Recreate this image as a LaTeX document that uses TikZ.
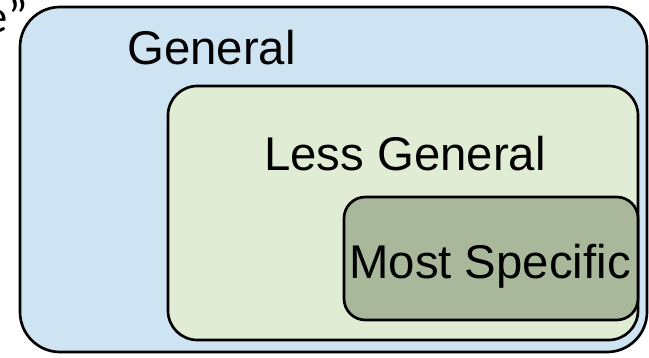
\documentclass[tikz,border=0pt]{standalone}
\usepackage{fontspec}
\setmainfont{Liberation Sans}
\newfontfamily\capfont{Carlito}
\usepackage{xcolor}
\usetikzlibrary{positioning,shapes}
\definecolor{outerblue}{HTML}{CFE4F2}
\definecolor{midgreen}{HTML}{E1ECD4}
\definecolor{darkgreen}{HTML}{A9B79B}
\tikzset{
  setbox/.style = {draw = black, line width = 2pt, inner sep = 0, outer sep = 0},
  settext/.style = {font = \fontsize{35.5}{40}\selectfont, inner sep = 0, anchor = base west}
}

\begin{document}
\begin{tikzpicture}[x = .75pt, y = -.75pt]
\useasboundingbox (0,0) rectangle (649,357);
\node[setbox, fill = outerblue, rounded corners = 30pt, minimum width = 470.25pt, minimum height = 258.75pt] (general) at (333.5,179.5) {};
\node[setbox, fill = midgreen, rounded corners = 22pt, minimum width = 352.5pt, minimum height = 190.5pt] (less) at (403,213) {};
\node[setbox, fill = darkgreen, rounded corners = 16pt, minimum width = 220.5pt, minimum height = 92.25pt] (most) at (491,258.5) {};
\node[settext] (generaltext) at (127,64) {General};
\node[settext] (lesstext) at (264,170) {Less General};
\node[settext] (mosttext) at (349,278) {Most Specific};
\node[font = \capfont\fontsize{35}{40}\selectfont, inner sep = 0, anchor = base east] (cut) at (28,32) {e”};
\end{tikzpicture}
\end{document}
